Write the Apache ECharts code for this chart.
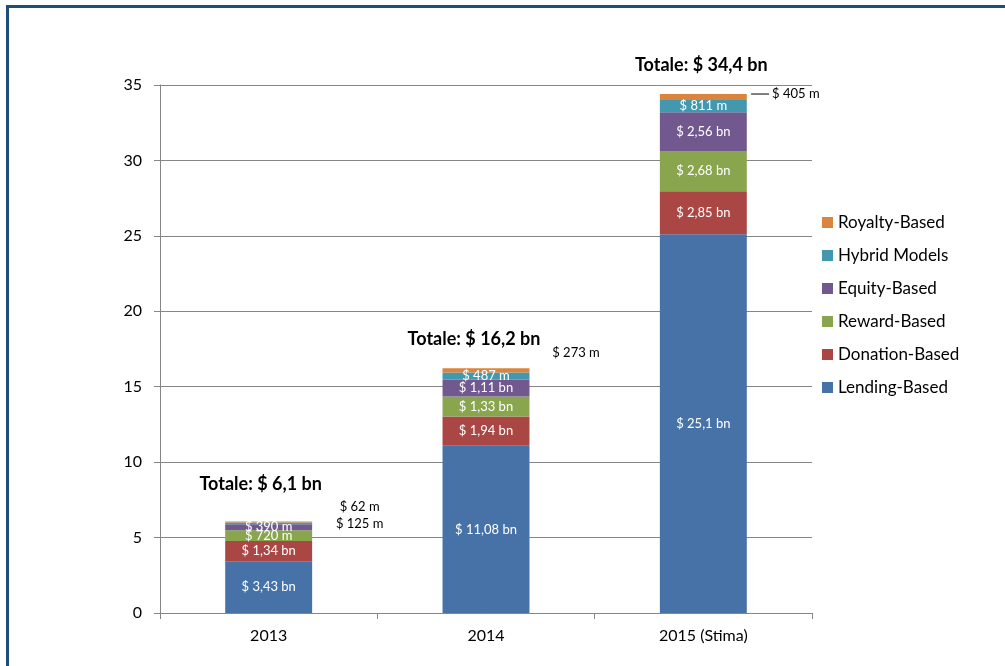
<!DOCTYPE html>
<html>
<head>
<meta charset="utf-8">
<script src="https://cdn.jsdelivr.net/npm/echarts@6/dist/echarts.min.js"></script>
<style>
html,body{margin:0;padding:0;background:#fff;overflow:hidden;}
#chart{width:1005px;height:666px;position:absolute;left:0;top:0;}
#frame{position:absolute;left:6px;top:5px;width:1200px;height:900px;border-left:3px solid #1F4E79;border-top:3px solid #1F4E79;pointer-events:none;}
</style>
</head>
<body>
<div id="chart"></div>
<div id="frame"></div>
<script>
const categories = ['2013', '2014', '2015 (Stima)'];
const lending  = [3.43, 11.08, 25.1];
const donation = [1.34, 1.94, 2.85];
const reward   = [0.72, 1.33, 2.68];
const equity   = [0.39, 1.11, 2.56];
const hybrid   = [0.125, 0.487, 0.811];
const royalty  = [0.062, 0.273, 0.405];
const yTicks = [0, 5, 10, 15, 20, 25, 30, 35];

const FONT = 'Lato, "Open Sans", sans-serif';
const colors = {
  'Lending-Based': '#4672A8',
  'Donation-Based': '#AA4643',
  'Reward-Based': '#89A54E',
  'Equity-Based': '#71588F',
  'Hybrid Models': '#4198AF',
  'Royalty-Based': '#DB843D'
};

function fmt(v) {
  if (v < 1) return '$ ' + Math.round(v * 1000) + ' m';
  return '$ ' + String(v).replace('.', ',') + ' bn';
}

// labels drawn outside the bar (per series name, per category index)
const outside = {
  'Hybrid Models': {0: {offset: [91, 0]}},
  'Royalty-Based': {
    0: {offset: [91, -15]},
    1: {offset: [90, -18]},
    2: {offset: [82, -3], rich: true}
  }
};

const seriesDefs = [
  ['Lending-Based', lending],
  ['Donation-Based', donation],
  ['Reward-Based', reward],
  ['Equity-Based', equity],
  ['Hybrid Models', hybrid],
  ['Royalty-Based', royalty]
];

const series = seriesDefs.map(([name, vals]) => ({
  name: name,
  type: 'bar',
  stack: 'total',
  barWidth: '40%',
  itemStyle: {color: colors[name]},
  label: {
    show: true,
    position: 'inside',
    color: '#fff',
    fontFamily: FONT,
    fontSize: 13,
    formatter: p => fmt(p.value)
  },
  data: vals.map((v, i) => {
    const o = outside[name] && outside[name][i];
    if (!o) return v;
    const lab = {
      show: true,
      position: 'inside',
      color: '#000',
      fontSize: 13,
      fontFamily: FONT,
      offset: o.offset
    };
    if (o.rich) {
      lab.formatter = '{l|}{t|' + fmt(v) + '}';
      lab.rich = {
        l: {width: 18, height: 1, backgroundColor: '#000'},
        t: {color: '#000', fontSize: 13, fontFamily: FONT, padding: [0, 0, 0, 3]}
      };
    } else {
      lab.formatter = fmt(v);
    }
    return {value: v, label: lab};
  })
}));

const totals = categories.map((c, i) =>
  seriesDefs.reduce((s, d) => s + d[1][i], 0));
const totalOffsets = [[-8, -23], [-12, -15], [-2, -15]];

series.push({
  name: 'Totale',
  type: 'bar',
  stack: 'total',
  barWidth: '40%',
  itemStyle: {color: 'transparent'},
  silent: true,
  data: totals.map((t, i) => ({
    value: 0,
    label: {
      show: true,
      position: 'top',
      offset: totalOffsets[i],
      formatter: 'Totale: $ ' + t.toFixed(1).replace('.', ',') + ' bn',
      color: '#000',
      fontWeight: 'bold',
      fontSize: 18,
      fontFamily: FONT
    }
  }))
});

const chart = echarts.init(document.getElementById('chart'), null, {renderer: 'canvas'});
chart.setOption({
  animation: false,
  backgroundColor: '#fff',
  textStyle: {fontFamily: FONT},
  grid: {left: 160, right: 193, top: 85, bottom: 53, containLabel: false},
  legend: {
    orient: 'vertical',
    left: 822,
    top: 214,
    padding: 0,
    itemWidth: 11,
    itemHeight: 11,
    itemGap: 16,
    icon: 'rect',
    data: ['Royalty-Based', 'Hybrid Models', 'Equity-Based', 'Reward-Based', 'Donation-Based', 'Lending-Based'],
    textStyle: {fontSize: 17, color: '#000', fontFamily: FONT}
  },
  xAxis: {
    type: 'category',
    data: categories,
    axisLine: {show: true, lineStyle: {color: '#868686', width: 1}},
    axisTick: {show: true, length: 6, lineStyle: {color: '#868686'}},
    axisLabel: {color: '#000', fontSize: 16, margin: 15, fontFamily: FONT}
  },
  yAxis: {
    type: 'value',
    min: yTicks[0],
    max: yTicks[yTicks.length - 1],
    interval: yTicks[1] - yTicks[0],
    axisLine: {show: true, lineStyle: {color: '#868686', width: 1}},
    axisTick: {show: true, length: 6, lineStyle: {color: '#868686'}},
    splitLine: {show: true, lineStyle: {color: '#868686', width: 1}},
    axisLabel: {color: '#000', fontSize: 16, margin: 18, fontFamily: FONT}
  },
  series: series
});
</script>
</body>
</html>
